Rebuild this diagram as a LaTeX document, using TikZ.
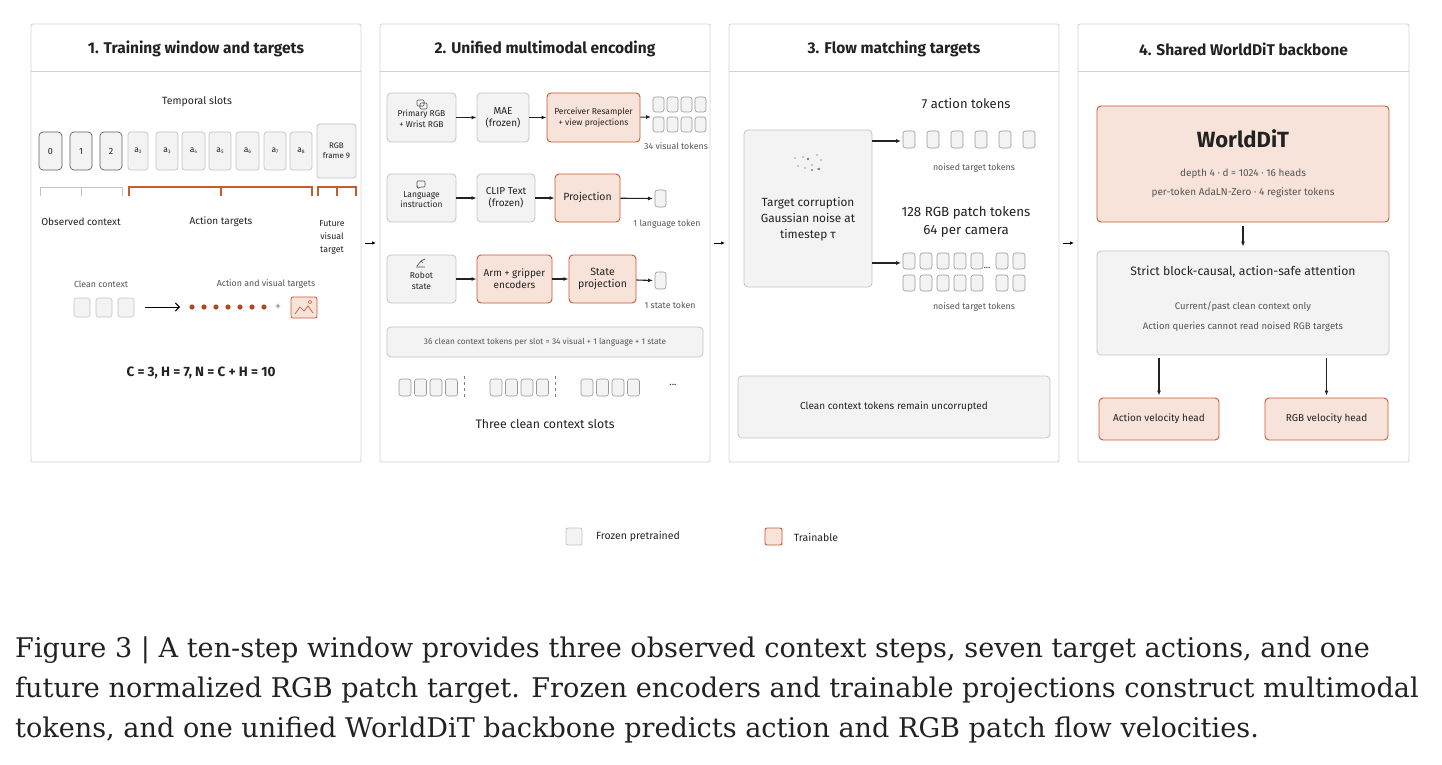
\documentclass[tikz,border=0pt]{standalone}
\usepackage{fontspec}
\setmainfont{Fira Sans}
\newfontfamily\capfont{DejaVu Serif}
\usetikzlibrary{arrows.meta}
\definecolor{gfill}{HTML}{F3F3F3}
\definecolor{gline}{HTML}{C4C4C4}
\definecolor{ofill}{HTML}{F8E3DA}
\definecolor{oline}{HTML}{C65A30}
\definecolor{odark}{HTML}{B8461C}
\definecolor{pline}{HTML}{D2D2D2}
\definecolor{txt}{HTML}{222222}
\definecolor{sub}{HTML}{555555}
\tikzset{
 panel/.style={draw=pline,fill=white,rounded corners=2pt,line width=0.8pt},
 gbox/.style={draw=gline,fill=gfill,rounded corners=4pt,line width=0.8pt,align=center,text=txt,font=\fontsize{10}{12}\selectfont},
 obox/.style={draw=oline,fill=ofill,rounded corners=4pt,line width=0.9pt,align=center,text=txt,font=\fontsize{10}{12}\selectfont},
 tok/.style={draw=gray!80,fill=gfill,rounded corners=2.5pt,line width=0.6pt},
 arr/.style={-{Latex[length=5pt,width=4pt]},line width=1.1pt,draw=txt},
 title/.style={font=\fontsize{15.5}{17}\selectfont\bfseries,text=txt},
 small/.style={font=\fontsize{8.8}{10}\selectfont,text=sub},
 lab/.style={font=\fontsize{10.5}{12}\selectfont,text=txt,align=center},
 captext/.style={anchor=west,font=\capfont\fontsize{27.1}{30}\selectfont,text=txt,inner sep=0},
}
\newcommand\rb[7]{\node[#2,minimum width={(#5-#3)*1pt},minimum height={(#6-#4)*1pt},inner sep=0pt] (#1) at ({(#3+#5)/2},{(#4+#6)/2}) {#7};}
\newcommand\tk[4]{\draw[tok] (#1,#2) rectangle (#3,#4);}
\newcommand\sbs[1]{\raisebox{-0.25ex}{\fontsize{5}{5}\selectfont #1}}
\begin{document}
\begin{tikzpicture}[x=1pt,y=-1pt]
\useasboundingbox (0,0) rectangle (1442,765);
% panels
\foreach \a/\b/\t [count=\i] in {31/361/1. Training window and targets,380/710/2. Unified multimodal encoding,729/1059/3. Flow matching targets,1078/1409/4. Shared WorldDiT backbone}{
 \draw[panel] (\a,24) rectangle (\b,462);
 \draw[pline,line width=0.8pt] (\a,71) -- (\b,71);
 \node[title] (t\i) at ({(\a+\b)/2},49) {\t};
}
\coordinate (p1) at (361,243); \coordinate (p2) at (380,243);
\coordinate (p3) at (710,243); \coordinate (p4) at (729,243);
\coordinate (p5) at (1059,243); \coordinate (p6) at (1078,243);
\draw[-{Latex[length=4pt,width=3.5pt]},line width=1pt] ([xshift=4pt]p1) -- ([xshift=-4pt]p2);
\draw[-{Latex[length=4pt,width=3.5pt]},line width=1pt] ([xshift=4pt]p3) -- ([xshift=-4pt]p4);
\draw[-{Latex[length=4pt,width=3.5pt]},line width=1pt] ([xshift=4pt]p5) -- ([xshift=-4pt]p6);

% ---------- panel 1
\node[lab] (ts) at (197,102) {Temporal slots};
\foreach \a/\b/\t [count=\i] in {39/62/0,70/92/1,100/122/2}{
 \draw[draw=gray!75!black,fill=gfill,rounded corners=4pt,line width=0.7pt] (\a,132) rectangle (\b,170);
 \node[font=\fontsize{9}{10}\selectfont,text=txt] (s\i) at ({(\a+\b)/2},151) {\t};}
\foreach \a/\b/\t [count=\i] in {128/148/2,156/178/3,182/205/4,209/231/5,236/259/6,264/286/7,290/312/8}{
 \draw[draw=gline,fill=gfill,rounded corners=3pt,line width=0.7pt] (\a,132) rectangle (\b,170);
 \node[font=\fontsize{8.5}{10}\selectfont,text=txt] (a\i) at ({(\a+\b)/2},151) {a\sbs{\t}};}
\rb{rgb9}{gbox,rounded corners=3pt,font=\fontsize{8}{10}\selectfont}{317}{124}{356}{178}{RGB\\frame 9}
\draw[gline,line width=1pt] (40,196) -- (40,187) -- (122,187) -- (122,196) (81,187) -- (81,196);
\draw[oline,line width=1.2pt] (129,196) -- (129,187) -- (312,187) -- (312,196) (221,187) -- (221,196);
\draw[oline,line width=1.2pt] (318,196) -- (318,187) -- (356,187) -- (356,196) (337,187) -- (337,196);
\node[lab,font=\fontsize{10}{11}\selectfont] (oc) at (81,222) {Observed context};
\node[lab,font=\fontsize{10}{11}\selectfont] (at) at (221,222) {Action targets};
\node[lab,font=\fontsize{8.8}{13}\selectfont] (fv) at (332,237) {Future\\visual\\target};
\node[small] (cc) at (101,284) {Clean context};
\node[small] (avt) at (266,284) {Action and visual targets};
\foreach \a in {74,96,118}{\draw[tok,draw=gline] (\a,298) rectangle (\a+16,317);}
\coordinate (c1) at (145,307); \coordinate (c2) at (180,307);
\draw[-{Straight Barb[length=4pt,width=8pt]},line width=0.9pt] (c1) -- (c2);
\foreach \i in {0,...,6}{\fill[odark] (192+\i*12,307) circle (2.6);}
\node[text=gray,font=\fontsize{12}{12}\selectfont] (plus) at (278,307) {+};
\draw[oline,fill=ofill,rounded corners=2pt,line width=0.8pt] (291,297) rectangle (317,318);
\draw[oline,line width=0.7pt] (295,314) -- (300,307) -- (304,311) -- (308,306) -- (313,313);
\draw[oline,line width=0.6pt] (310,302) circle (1.8);
\node[font=\fontsize{13.5}{15}\selectfont\bfseries,text=txt] (eq) at (201,373) {C = 3, H = 7, N = C + H = 10};

% ---------- panel 2
\rb{in1}{gbox,font=\fontsize{8.5}{10.5}\selectfont}{387}{93}{456}{142}{\\[-1pt]Primary RGB\\+ Wrist RGB}
\draw[sub,line width=0.6pt,rounded corners=1pt] (417,100) rectangle (424,106) (420,103) rectangle (427,109);
\rb{mae}{gbox}{477}{93}{529}{142}{MAE\\(frozen)}
\rb{per}{obox,font=\fontsize{8.5}{10.5}\selectfont}{547}{93}{640}{142}{Perceiver Resampler\\+ view projections}
\draw[arr] (in1) -- (mae); \draw[arr] (mae) -- (per);
\foreach \i in {0,...,3}{\tk{653+\i*14}{97}{664+\i*14}{112}\tk{653+\i*14}{117}{664+\i*14}{132}}
\coordinate (v1) at (651,117);
\draw[arr,line width=0.9pt] (per) -- (v1);
\node[small] (vt) at (676,146) {34 visual tokens};
\rb{in2}{gbox,font=\fontsize{8.5}{10.5}\selectfont}{387}{174}{456}{222}{\\[-1pt]Language\\instruction}
\draw[sub,line width=0.6pt,rounded corners=1pt] (417,181) -- (425,181) -- (425,187) -- (420,187) -- (418,189) -- (418,187) -- (417,187) -- cycle;
\rb{clip}{gbox}{477}{174}{535}{222}{CLIP Text\\(frozen)}
\rb{proj}{obox,font=\fontsize{10.5}{12}\selectfont}{555}{174}{620}{222}{Projection}
\draw[arr] (in2) -- (clip); \draw[arr] (clip) -- (proj);
\tk{655}{190}{666}{207}
\coordinate (l1) at (653,198.5);
\draw[arr] (proj) -- (l1);
\node[small] (lt) at (667,224) {1 language token};
\rb{in3}{gbox,font=\fontsize{8.5}{10.5}\selectfont}{387}{255}{456}{303}{\\[0pt]Robot\\state}
\draw[sub,line width=0.7pt] (416,267) -- (425,267) (417,266) -- (421,261) -- (425,259) (421,261) -- (423,263);
\rb{arm}{obox}{477}{255}{552}{303}{Arm + gripper\\encoders}
\rb{stp}{obox,font=\fontsize{10.5}{12}\selectfont}{569}{255}{636}{303}{State\\projection}
\draw[arr] (in3) -- (arm); \draw[arr] (arm) -- (stp);
\tk{655}{272}{666}{289}
\coordinate (st1) at (653,280.5);
\draw[arr] (stp) -- (st1);
\node[small] (stt) at (670,305) {1 state token};
\rb{bar}{gbox,font=\fontsize{8.3}{10}\selectfont,text=sub}{387}{327}{703}{357}{36 clean context tokens per slot = 34 visual + 1 language + 1 state}
\foreach \g in {399,490,581}{\foreach \i in {0,...,3}{\tk{\g+\i*15.5}{379}{\g+\i*15.5+12}{396}}}
\draw[gray,dashed,line width=0.7pt] (464,376) -- (464,398) (555,376) -- (555,398);
\node[font=\fontsize{10}{10}\selectfont,text=txt] (dots2) at (673,385) {...};
\node[lab,font=\fontsize{12.3}{13}\selectfont] (tcs) at (545,424) {Three clean context slots};

% ---------- panel 3
\rb{corr}{gbox,font=\fontsize{11.8}{16}\selectfont}{744}{130}{872}{287}{\\[14pt]Target corruption\\Gaussian noise at\\timestep τ}
\foreach \p in {(795,158),(803,157),(808,159),(817,155),(821,160),(798,166),(805,168),(812,165),(818,169)}{\fill[gray!80] \p circle (0.9);}
\fill[gray] (808,159) circle (1.4) (812,170) circle (1.2) (819,169) circle (1.3);
\node[lab,font=\fontsize{13}{14}\selectfont] (at7) at (966,104) {7 action tokens};
\foreach \i in {0,...,5}{\tk{903+\i*24}{131}{915+\i*24}{148}}
\coordinate (at1) at (901,141);
\draw[arr] (corr.east |- at1) -- (at1);
\node[small] (nt1) at (974,168) {noised target tokens};
\node[lab,font=\fontsize{13.3}{18}\selectfont] (rgbt) at (966,222) {128 RGB patch tokens\\64 per camera};
\foreach \i in {0,...,4}{\tk{903+\i*17}{253}{915+\i*17}{269}\tk{903+\i*17}{275}{915+\i*17}{291}}
\foreach \x in {996,1013}{\tk{\x}{253}{\x+12}{269}\tk{\x}{275}{\x+12}{291}}
\node[font=\fontsize{9}{9}\selectfont,text=txt] (dots3) at (987,268) {...};
\coordinate (rt1) at (901,263);
\draw[arr] (corr.east |- rt1) -- (rt1);
\node[small] (nt2) at (974,307) {noised target tokens};
\rb{clean}{gbox,font=\fontsize{10}{11}\selectfont}{738}{376}{1050}{438}{Clean context tokens remain uncorrupted}

% ---------- panel 4
\rb{wd}{obox}{1097}{106}{1389}{222}{}
\node[font=\fontsize{22}{24}\selectfont\bfseries,text=txt] (wdt) at (1243,139) {WorldDiT};
\node[small,font=\fontsize{10}{10}\selectfont] (wd1) at (1243,174) {depth 4 · d = 1024 · 16 heads};
\node[small,font=\fontsize{10}{10}\selectfont] (wd2) at (1243,193) {per-token AdaLN-Zero · 4 register tokens};
\rb{att}{gbox}{1097}{251}{1389}{355}{}
\node[lab,font=\fontsize{12.2}{13}\selectfont] (att0) at (1243,272) {Strict block-causal, action-safe attention};
\node[small,font=\fontsize{9.5}{10}\selectfont] (att1) at (1243,307) {Current/past clean context only};
\node[small,font=\fontsize{9.5}{10}\selectfont] (att2) at (1243,327) {Action queries cannot read noised RGB targets};
\draw[arr] ([yshift=-4pt]wd.south) -- ([yshift=4pt]att.north);
\rb{avh}{obox,font=\fontsize{10}{11}\selectfont}{1099}{398}{1219}{440}{Action velocity head}
\rb{rvh}{obox,font=\fontsize{10}{11}\selectfont}{1265}{398}{1388}{440}{RGB velocity head}
\draw[arr] ([yshift=-3pt]att.south -| avh.north) -- ([yshift=2pt]avh.north);
\draw[arr] ([yshift=-3pt]att.south -| rvh.north) -- ([yshift=2pt]rvh.north);

% legend
\rb{lg1}{gbox,rounded corners=2pt}{566}{528}{582}{545}{}
\node[lab] (lg1t) at (638,537) {Frozen pretrained};
\rb{lg2}{obox,rounded corners=2pt}{765}{528}{782}{545}{}
\node[lab] (lg2t) at (816,537) {Trainable};

% caption
\node[captext] (cap1) at (15,650) {Figure 3 | A ten-step window provides three observed context steps, seven target actions, and one};
\node[captext] (cap2) at (15,690) {future normalized RGB patch target. Frozen encoders and trainable projections construct multimodal};
\node[captext] (cap3) at (15,730) {tokens, and one unified WorldDiT backbone predicts action and RGB patch flow velocities.};
\end{tikzpicture}
\end{document}
